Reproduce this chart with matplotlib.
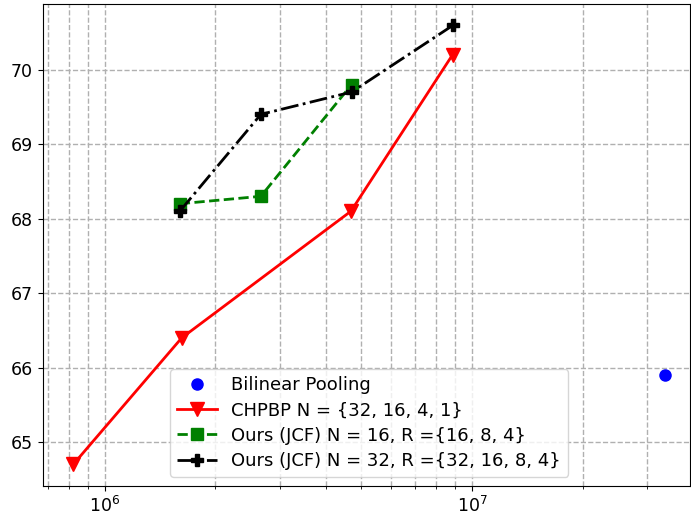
import matplotlib
matplotlib.use("Agg")
import matplotlib.pyplot as plt

# parameters count vs accuracy
bilinear_x = [3.35e7]
bilinear_y = [65.9]

chpbp_x = [8.2e5, 1.62e6, 4.68e6, 8.85e6]
chpbp_y = [64.7, 66.4, 68.1, 70.2]

jcf16_x = [1.6e6, 2.66e6, 4.7e6]
jcf16_y = [68.2, 68.3, 69.8]

jcf32_x = [1.6e6, 2.66e6, 4.7e6, 8.9e6]
jcf32_y = [68.1, 69.4, 69.7, 70.6]

fig, ax = plt.subplots(figsize=(6.91, 5.16), dpi=100)

ax.plot(bilinear_x, bilinear_y, 'bo', markersize=8, label='Bilinear Pooling')
ax.plot(chpbp_x, chpbp_y, 'r-v', markersize=10, linewidth=2, label='CHPBP N = {32, 16, 4, 1}')
ax.plot(jcf16_x, jcf16_y, 'g--s', markersize=9, linewidth=2, label='Ours (JCF) N = 16, R ={16, 8, 4}')
ax.plot(jcf32_x, jcf32_y, 'k-.P', markersize=9, linewidth=2, label='Ours (JCF) N = 32, R ={32, 16, 8, 4}')

ax.set_xscale('log')
ax.set_xlim(6.78e5, 3.93e7)
ax.set_ylim(64.41, 70.88)
ax.grid(True, which='both', linestyle='--', color='#b0b0b0', linewidth=1)
ax.tick_params(labelsize=12.5)
ax.legend(loc='lower center', bbox_to_anchor=(0.504, 0.0), fontsize=13,
          handlelength=2.2, labelspacing=0.4)

fig.subplots_adjust(left=0.062, right=0.999, top=0.992, bottom=0.058)
fig.savefig('out.png')
